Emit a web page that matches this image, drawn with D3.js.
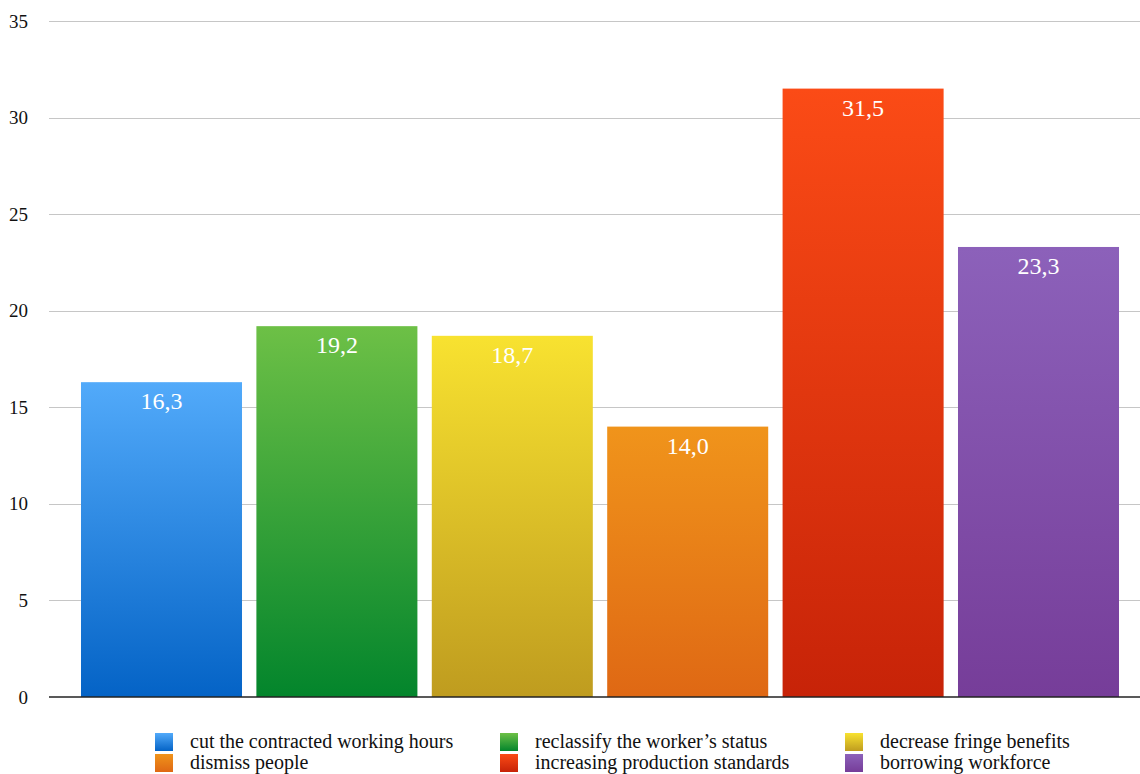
<!DOCTYPE html>
<html>
<head>
<meta charset="utf-8">
<script src="https://cdn.jsdelivr.net/npm/d3@7"></script>
<style>
  html, body { margin: 0; padding: 0; background: #fff; }
  svg { display: block; }
  svg text { font-family: "Liberation Serif", "DejaVu Serif", serif; }
</style>
</head>
<body>
<svg id="chart" width="1140" height="774"></svg>
<script>
// Share of respondents by measure taken (%)
const categories = [
  "cut the contracted working hours",
  "reclassify the worker\u2019s status",
  "decrease fringe benefits",
  "dismiss people",
  "increasing production standards",
  "borrowing workforce"
];
const values = [16.3, 19.2, 18.7, 14.0, 31.5, 23.3];
const yTicks = [0, 5, 10, 15, 20, 25, 30, 35];
// gradient stops per bar: [top, bottom]
const barColors = [
  ["#52aafa", "#0463c6"],
  ["#6dc046", "#03852c"],
  ["#f8e230", "#bf9c1f"],
  ["#f0941b", "#df6814"],
  ["#fb4b16", "#c72308"],
  ["#8c61ba", "#763d99"]
];

const svg = d3.select("#chart");
const plotLeft = 49, plotRight = 1140;
const serif = "'Liberation Serif', 'Times New Roman', serif";

const y = d3.scaleLinear().domain([0, 35]).range([697, 21]);
const x = d3.scaleBand()
  .domain(categories)
  .range([73.8, 1126.2])
  .paddingInner(0.082)
  .paddingOuter(0.041);

const defs = svg.append("defs");
barColors.forEach((c, i) => {
  const g = defs.append("linearGradient")
    .attr("id", "grad" + i)
    .attr("x1", 0).attr("y1", 0).attr("x2", 0).attr("y2", 1);
  g.append("stop").attr("offset", "0%").attr("stop-color", c[0]);
  g.append("stop").attr("offset", "100%").attr("stop-color", c[1]);
});

// gridlines
svg.append("g")
  .selectAll("line")
  .data(yTicks.filter(d => d !== 0))
  .join("line")
  .attr("x1", plotLeft).attr("x2", plotRight)
  .attr("y1", d => Math.round(y(d)) + 0.5)
  .attr("y2", d => Math.round(y(d)) + 0.5)
  .attr("stroke", "#c6c6c6")
  .attr("stroke-width", 1);

// y tick labels
svg.append("g")
  .selectAll("text")
  .data(yTicks)
  .join("text")
  .attr("x", 28)
  .attr("y", d => y(d) + 6.5)
  .attr("text-anchor", "end")
  .attr("font-family", serif)
  .attr("font-size", 19)
  .attr("fill", "#111")
  .text(d => d);

// bars
svg.append("g")
  .selectAll("rect")
  .data(values)
  .join("rect")
  .attr("x", (d, i) => x(categories[i]))
  .attr("width", x.bandwidth())
  .attr("y", d => y(d))
  .attr("height", d => y(0) - y(d))
  .attr("fill", (d, i) => `url(#grad${i})`);

// baseline
svg.append("line")
  .attr("x1", plotLeft).attr("x2", plotRight)
  .attr("y1", y(0)).attr("y2", y(0))
  .attr("stroke", "#222")
  .attr("stroke-width", 1.6);

// value labels
svg.append("g")
  .selectAll("text")
  .data(values)
  .join("text")
  .attr("x", (d, i) => x(categories[i]) + x.bandwidth() / 2)
  .attr("y", d => y(d) + 27)
  .attr("text-anchor", "middle")
  .attr("font-family", serif)
  .attr("font-size", 24)
  .attr("fill", "#fff")
  .text(d => d.toFixed(1).replace(".", ","));

// legend
const legendCols = [155, 500, 845];
const legendRows = [733, 754];
const legend = svg.append("g")
  .selectAll("g")
  .data(categories)
  .join("g")
  .attr("transform", (d, i) => `translate(${legendCols[i % 3]},${legendRows[Math.floor(i / 3)]})`);
legend.append("rect")
  .attr("width", 18).attr("height", 18)
  .attr("fill", (d, i) => `url(#grad${i})`);
legend.append("text")
  .attr("x", 35)
  .attr("y", 15)
  .attr("font-family", serif)
  .attr("font-size", 20)
  .attr("fill", "#111")
  .text(d => d);
</script>
</body>
</html>
